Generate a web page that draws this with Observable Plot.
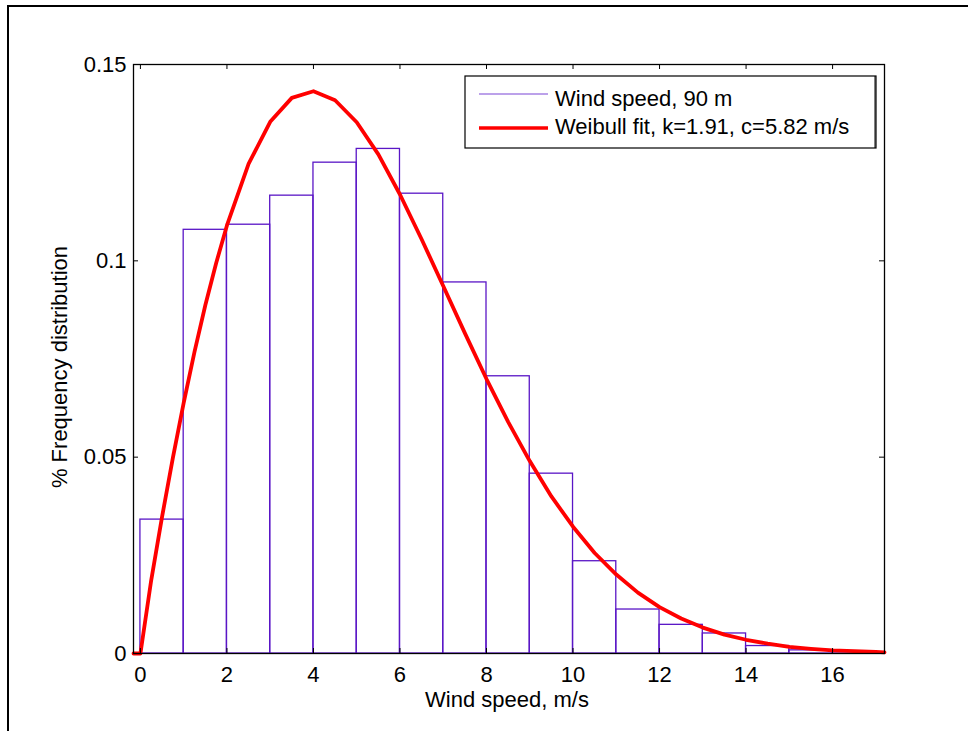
<!DOCTYPE html>
<html>
<head>
<meta charset="utf-8">
<script src="https://cdn.jsdelivr.net/npm/d3@7"></script>
<script src="https://cdn.jsdelivr.net/npm/@observablehq/plot@0.6"></script>
<style>
  body { margin: 0; background: #fff; }
  #wrap { position: relative; width: 968px; height: 731px; overflow: hidden; background: #fff; }
  #wrap > svg { position: absolute; left: 0; top: 0; }
  #border { position: absolute; left: 7px; top: 5px; width: 3000px; height: 3000px; border-left: 2px solid #000; border-top: 2px solid #000; pointer-events: none; }
</style>
</head>
<body>
<div id="wrap"></div>
<script>
// ---- data ----
const binStarts = [0, 1, 2, 3, 4, 5, 6, 7, 8, 9, 10, 11, 12, 13, 14, 15, 16];
const binFreq   = [0.0341, 0.1079, 0.1092, 0.1166, 0.1250, 0.1285, 0.1171, 0.0945, 0.0706, 0.0458, 0.0235, 0.0112, 0.0073, 0.0051, 0.0019, 0.0008, 0.0005];
const binWidth = 1;

const fitX = [-0.16, 0, 0.25, 0.5, 0.75, 1, 1.25, 1.5, 1.75, 2, 2.5, 3, 3.5, 4, 4.5, 5, 5.5, 6, 6.5, 7, 7.5, 8, 8.5, 9, 9.5, 10, 10.5, 11, 11.5, 12, 12.5, 13, 13.5, 14, 14.5, 15, 15.5, 16, 16.5, 17, 17.2];
const fitY = [0, 0, 0.0187, 0.0348, 0.0498, 0.0638, 0.0768, 0.0887, 0.0994, 0.1090, 0.1247, 0.1354, 0.1415, 0.1432, 0.1409, 0.1353, 0.1271, 0.1169, 0.1055, 0.0936, 0.0816, 0.0699, 0.0590, 0.0490, 0.0400, 0.0323, 0.0256, 0.0201, 0.0155, 0.0118, 0.0089, 0.0066, 0.0048, 0.0035, 0.0025, 0.0017, 0.0012, 0.0008, 0.0006, 0.0004, 0.0003];

const xDomain = [-0.16, 17.2];
const yDomain = [0, 0.15];
const xTicks = [0, 2, 4, 6, 8, 10, 12, 14, 16];
const yTicks = [0, 0.05, 0.1, 0.15];
const yTickLabels = ["0", "0.05", "0.1", "0.15"];

const xLabel = "Wind speed, m/s";
const yLabel = "% Frequency distribution";
const legendLabels = ["Wind speed, 90 m", "Weibull fit, k=1.91, c=5.82 m/s"];

// ---- tables ----
const bins = binStarts.map((s, i) => ({x1: s, x2: s + binWidth, v: binFreq[i]}));
const fit = fitX.map((x, i) => ({x, y: fitY[i]}));

const W = 968, H = 731;
const mL = 133, mR = 84, mT = 64, mB = 78;
const innerW = W - mL - mR, innerH = H - mT - mB;
const tk = 5;
const barColor = "#5a16c6";
const fitColor = "#ff0000";

const chart = Plot.plot({
  width: W, height: H,
  marginLeft: mL, marginRight: mR, marginTop: mT, marginBottom: mB,
  style: {fontFamily: "'Liberation Sans', Arial, sans-serif", fontSize: "22px", color: "#000", background: "transparent", overflow: "visible"},
  x: {domain: xDomain},
  y: {domain: yDomain},
  marks: [
    Plot.rect(bins, {x1: "x1", x2: "x2", y1: 0, y2: "v", fill: "none", stroke: barColor, strokeWidth: 1.3}),
    Plot.line(fit, {x: "x", y: "y", stroke: fitColor, strokeWidth: 3.8, strokeLinejoin: "round"}),
    Plot.frame({stroke: "#000", strokeWidth: 1.3}),
    Plot.tickX(xTicks, {x: d => d, insetTop: innerH - tk, stroke: "#000"}),
    Plot.tickX(xTicks, {x: d => d, insetBottom: innerH - tk, stroke: "#000"}),
    Plot.tickY(yTicks, {y: d => d, insetRight: innerW - tk, stroke: "#000"}),
    Plot.tickY(yTicks, {y: d => d, insetLeft: innerW - tk, stroke: "#000"}),
    Plot.axisX({ticks: xTicks, tickSize: 0, tickPadding: 13, label: null, fontSize: 22}),
    Plot.axisY({ticks: yTicks, tickSize: 0, tickPadding: 7, label: null, fontSize: 22,
      tickFormat: d => yTickLabels[yTicks.indexOf(d)]}),
    Plot.text([xLabel], {text: d => d, frameAnchor: "bottom", textAnchor: "middle", lineAnchor: "bottom", dy: 53, dx: -2, fontSize: 22}),
    Plot.text([yLabel], {text: d => d, frameAnchor: "left", textAnchor: "middle", lineAnchor: "bottom", rotate: -90, dx: -67, dy: 8, fontSize: 22})
  ]
});

const wrap = document.getElementById("wrap");
wrap.appendChild(chart);

// legend box inside the axes (top right)
const leg = d3.select(wrap).append("svg")
  .attr("width", 420).attr("height", 80)
  .style("position", "absolute").style("left", "464px").style("top", "75px").style("overflow", "visible");
leg.append("rect").attr("x", 1).attr("y", 1).attr("width", 411).attr("height", 72)
  .attr("fill", "#fff").attr("stroke", "#000").attr("stroke-width", 1.2);
leg.append("line").attr("x1", 411).attr("x2", 411).attr("y1", 1).attr("y2", 73)
  .attr("stroke", "#000").attr("stroke-width", 1);
const rows = [
  {label: legendLabels[0], color: "#7a44d6", w: 1.2, ly: 19, ty: 31},
  {label: legendLabels[1], color: fitColor, w: 3.6, ly: 53, ty: 59}
];
rows.forEach(r => {
  leg.append("line").attr("x1", 15).attr("x2", 84).attr("y1", r.ly).attr("y2", r.ly)
    .attr("stroke", r.color).attr("stroke-width", r.w);
  leg.append("text").attr("x", 91).attr("y", r.ty).text(r.label)
    .attr("font-family", "'Liberation Sans', Arial, sans-serif").attr("font-size", 22).attr("fill", "#000");
});

const b = document.createElement("div");
b.id = "border";
wrap.appendChild(b);
</script>
</body>
</html>
